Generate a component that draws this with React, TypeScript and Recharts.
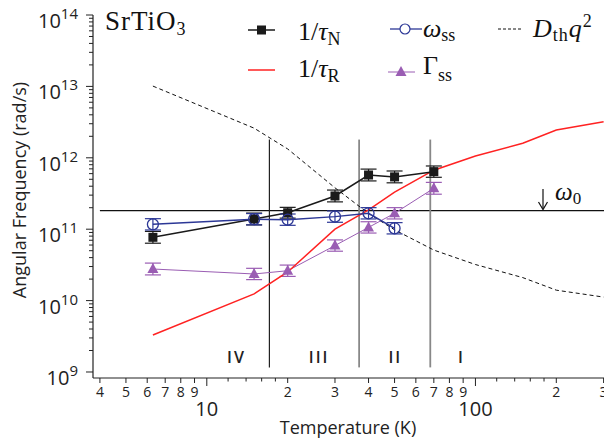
import React from 'react';
import { ComposedChart, Line, XAxis, YAxis, ErrorBar, ReferenceLine, ReferenceDot } from 'recharts';

// temperatures (K) of the measured points
const tempPts = [6.3, 15, 20, 30, 40, 50, 70];
const tauN = [7.7e10, 1.39e11, 1.7e11, 2.92e11, 5.74e11, 5.4e11, 6.4e11];
const tauNErr = [1.21, 1.21, 1.19, 1.21, 1.21, 1.21, 1.2];
const omegaSS = [1.17e11, 1.38e11, 1.36e11, 1.5e11, 1.67e11, 1.03e11];
const omegaErr = [1.2, 1.2, 1.2, 1.2, 1.2, 1.2];
const gammaSS = [2.77e10, 2.36e10, 2.62e10, 5.9e10, 1.06e11, 1.67e11, 3.74e11];
const gammaErr = [1.21, 1.2, 1.2, 1.2, 1.2, 1.2, 1.21];

// calculated curves
const tempCurve = [6.3, 15, 20, 30, 40, 50, 70, 100, 150, 200, 300];
const tauR = [3.3e9, 1.24e10, 2.52e10, 1.0e11, 1.86e11, 3.3e11, 6.7e11, 1.06e12, 1.6e12, 2.45e12, 3.2e12];
const dthQ2 = [1.01e13, 2.6e12, 1.33e12, 3.8e11, 1.66e11, 9.8e10, 5.1e10, 3.2e10, 2.1e10, 1.4e10, 1.12e10];

const omega0 = 1.82e11;
const regionBounds = [17.1, 36.9, 67.9];
const regionNames = ['IV', 'III', 'II', 'I'];
const regionCenters = [12.9, 26.2, 50.3, 88.6];

const xMajor = [10, 100];
const xSmall = [4, 5, 6, 7, 8, 9, 20, 30, 40, 50, 60, 70, 80, 90, 200, 300];
const xMinor = [12, 14, 16, 18, 120, 140, 160, 180];
const xTicks = [...xMajor, ...xSmall, ...xMinor].sort((a, b) => a - b);

const yDecades = [9, 10, 11, 12, 13, 14];
const yTicks: number[] = [];
yDecades.forEach((d) => {
  yTicks.push(Math.pow(10, d));
  if (d < 14) for (let k = 2; k <= 9; k++) yTicks.push(k * Math.pow(10, d));
});

const BLUE = '#2c3796';
const PURPLE = '#9a5db3';
const RED = '#ff2222';
const SANS = '"Open Sans", sans-serif';
const SERIF = '"Liberation Serif", serif';

const withErr = (T: number[], v: number[], f: number[]) =>
  v.map((val, i) => ({ T: T[i], v: val, err: [val - val / f[i], val * f[i] - val] }));

const XTick = (props: any) => {
  const { x, y, payload } = props;
  const v = payload.value as number;
  const major = xMajor.includes(v);
  const small = xSmall.includes(v);
  const len = major ? 8 : small ? 5 : 3.5;
  const lead = v / Math.pow(10, Math.floor(Math.log10(v) + 1e-9));
  return (
    <g>
      <line x1={x} x2={x} y1={y} y2={y + len} stroke="#222" strokeWidth={1} />
      {small && (
        <text x={x} y={y + 19} textAnchor="middle" fontSize={14} fill="#222" fontFamily={SANS}>
          {Math.round(lead)}
        </text>
      )}
      {major && (
        <text x={x} y={y + 38} textAnchor="middle" fontSize={20} fill="#222" fontFamily={SANS}>
          {v}
        </text>
      )}
    </g>
  );
};

const YTick = (props: any) => {
  const { x, y, payload } = props;
  const v = payload.value as number;
  const lg = Math.log10(v);
  const major = Math.abs(lg - Math.round(lg)) < 1e-6;
  return (
    <g>
      <line x1={x} x2={x - (major ? 7 : 4)} y1={y} y2={y} stroke="#222" strokeWidth={1} />
      {major && (
        <text x={x - 15} y={y + 13} textAnchor="end" fontSize={20} fill="#222" fontFamily={SANS}>
          10
          <tspan fontSize={15} dy={-9}>{Math.round(lg)}</tspan>
        </text>
      )}
    </g>
  );
};

const square = (color: string) => (p: any) => (
  <rect key={`sq-${p.index}`} x={p.cx - 4.5} y={p.cy - 4.5} width={9} height={9} fill={color} />
);
const circle = (color: string) => (p: any) => (
  <circle key={`ci-${p.index}`} cx={p.cx} cy={p.cy} r={5.5} fill="none" stroke={color} strokeWidth={1.3} />
);
const triangle = (color: string) => (p: any) => (
  <polygon
    key={`tr-${p.index}`}
    points={`${p.cx},${p.cy - 6} ${p.cx - 5.5},${p.cy + 4} ${p.cx + 5.5},${p.cy + 4}`}
    fill={color}
  />
);

export default function App() {
  const nData = withErr(tempPts, tauN, tauNErr);
  const wData = withErr(tempPts, omegaSS, omegaErr);
  const gData = withErr(tempPts, gammaSS, gammaErr);
  const rData = tempCurve.map((T, i) => ({ T, v: tauR[i] }));
  const dData = tempCurve.map((T, i) => ({ T, v: dthQ2[i] }));

  return (
    <div style={{ position: 'absolute', left: 0, top: 0, width: 604, height: 442, background: '#fff' }}>
      <ComposedChart width={604} height={442} margin={{ top: 15, right: 0, bottom: 0, left: 0 }}>
        <XAxis
          type="number"
          dataKey="T"
          scale="log"
          domain={[3.77, 301]}
          allowDataOverflow
          ticks={xTicks}
          interval={0}
          tick={(p: any) => <XTick {...p} />}
          tickLine={false}
          tickSize={0}
          tickMargin={0}
          height={64}
          axisLine={{ stroke: '#222', strokeWidth: 1.2 }}
        />
        <YAxis
          type="number"
          scale="log"
          domain={[8.24e8, 1e14]}
          allowDataOverflow
          ticks={yTicks}
          interval={0}
          tick={(p: any) => <YTick {...p} />}
          tickLine={false}
          tickSize={0}
          tickMargin={0}
          width={93}
          axisLine={{ stroke: '#222', strokeWidth: 1.2 }}
        />

        <ReferenceLine
          segment={[{ x: 4, y: omega0 }, { x: 301, y: omega0 }]}
          stroke="#111"
          strokeWidth={1.2}
          ifOverflow="visible"
        />
        {regionBounds.map((T, i) => (
          <ReferenceLine
            key={`rb-${i}`}
            segment={[{ x: T, y: 1.8e12 }, { x: T, y: 1.16e9 }]}
            stroke={i === 0 ? '#222' : '#888'}
            strokeWidth={i === 0 ? 1.2 : 1.8}
          />
        ))}
        {regionNames.map((name, i) => (
          <ReferenceDot
            key={`rn-${i}`}
            x={regionCenters[i]}
            y={1.62e9}
            r={0}
            fill="none"
            stroke="none"
            label={{
              value: name,
              position: 'center',
              fontSize: 16,
              fontWeight: 600,
              fill: '#222',
              letterSpacing: 2,
              fontFamily: SANS,
            }}
          />
        ))}

        <Line data={dData} dataKey="v" stroke="#111" strokeWidth={1} strokeDasharray="4 3" dot={false} isAnimationActive={false} />
        <Line data={gData} dataKey="v" stroke={PURPLE} strokeWidth={1} dot={triangle(PURPLE)} isAnimationActive={false}>
          <ErrorBar dataKey="err" width={8} stroke={PURPLE} strokeWidth={1.2} direction="y" />
        </Line>
        <Line data={rData} dataKey="v" stroke={RED} strokeWidth={1.5} dot={false} isAnimationActive={false} />
        <Line data={nData} dataKey="v" stroke="#1a1a1a" strokeWidth={1.5} dot={square('#1a1a1a')} isAnimationActive={false}>
          <ErrorBar dataKey="err" width={8} stroke="#1a1a1a" strokeWidth={1.2} direction="y" />
        </Line>
        <Line data={wData} dataKey="v" stroke={BLUE} strokeWidth={1.5} dot={circle(BLUE)} isAnimationActive={false}>
          <ErrorBar dataKey="err" width={8} stroke={BLUE} strokeWidth={1.2} direction="y" />
        </Line>
      </ComposedChart>

      <svg width={604} height={442} style={{ position: 'absolute', left: 0, top: 0, pointerEvents: 'none' }}>
        {/* material label */}
        <text x={105} y={30} fontFamily={SERIF} fontSize={27} letterSpacing={1} fill="#111">
          SrTiO<tspan fontSize={18} dy={5}>3</tspan>
        </text>

        {/* legend */}
        <line x1={248} x2={275} y1={30} y2={30} stroke="#1a1a1a" strokeWidth={1.5} />
        <rect x={257} y={25.5} width={9} height={9} fill="#1a1a1a" />
        <text x={298} y={40} fontFamily={SERIF} fontSize={26} fill="#111">
          1/<tspan fontStyle="italic">τ</tspan>
          <tspan fontSize={18} dy={5}>N</tspan>
        </text>

        <line x1={248} x2={275} y1={70} y2={70} stroke={RED} strokeWidth={1.5} />
        <text x={298} y={77} fontFamily={SERIF} fontSize={26} fill="#111">
          1/<tspan fontStyle="italic">τ</tspan>
          <tspan fontSize={18} dy={5}>R</tspan>
        </text>

        <line x1={390} x2={422} y1={29} y2={29} stroke={BLUE} strokeWidth={1.3} />
        <circle cx={405} cy={29} r={5} fill="#fff" stroke={BLUE} strokeWidth={1.2} />
        <text x={423} y={37} fontFamily={SERIF} fontSize={26} fill="#111">
          <tspan fontStyle="italic">ω</tspan>
          <tspan fontSize={18} dy={4}>ss</tspan>
        </text>

        <line x1={388} x2={415} y1={72} y2={72} stroke={PURPLE} strokeWidth={1} />
        <polygon points="401,66 395.5,76 406.5,76" fill={PURPLE} />
        <text x={423} y={74} fontFamily={SERIF} fontSize={26} fill="#111">
          Γ<tspan fontSize={18} dy={7}>ss</tspan>
        </text>

        <line x1={498} x2={522} y1={29} y2={29} stroke="#111" strokeWidth={1} strokeDasharray="3 2" />
        <text x={533} y={37} fontFamily={SERIF} fontSize={26} letterSpacing={1} fill="#111">
          <tspan fontStyle="italic">D</tspan>
          <tspan fontSize={18} dy={4}>th</tspan>
          <tspan fontStyle="italic" dy={-4}>q</tspan>
          <tspan fontSize={18} dy={-10}>2</tspan>
        </text>

        {/* omega_0 marker */}
        <line x1={543} x2={543} y1={189} y2={208} stroke="#111" strokeWidth={1.2} />
        <path d="M538.5,202 L543,209.5 L547.5,202" fill="none" stroke="#111" strokeWidth={1.2} />
        <text x={555} y={200} fontFamily={SERIF} fontSize={25} fill="#111">
          <tspan fontStyle="italic">ω</tspan>
          <tspan fontSize={17} dy={4}>0</tspan>
        </text>

        {/* axis titles */}
        <text x={348} y={434} textAnchor="middle" fontFamily={SANS} fontSize={18} fill="#222">
          Temperature (K)
        </text>
        <text
          x={26}
          y={190}
          transform="rotate(-90 26 190)"
          textAnchor="middle"
          fontFamily={SANS}
          fontSize={18}
          fill="#222"
        >
          Angular Frequency (rad/s)
        </text>
      </svg>
    </div>
  );
}
